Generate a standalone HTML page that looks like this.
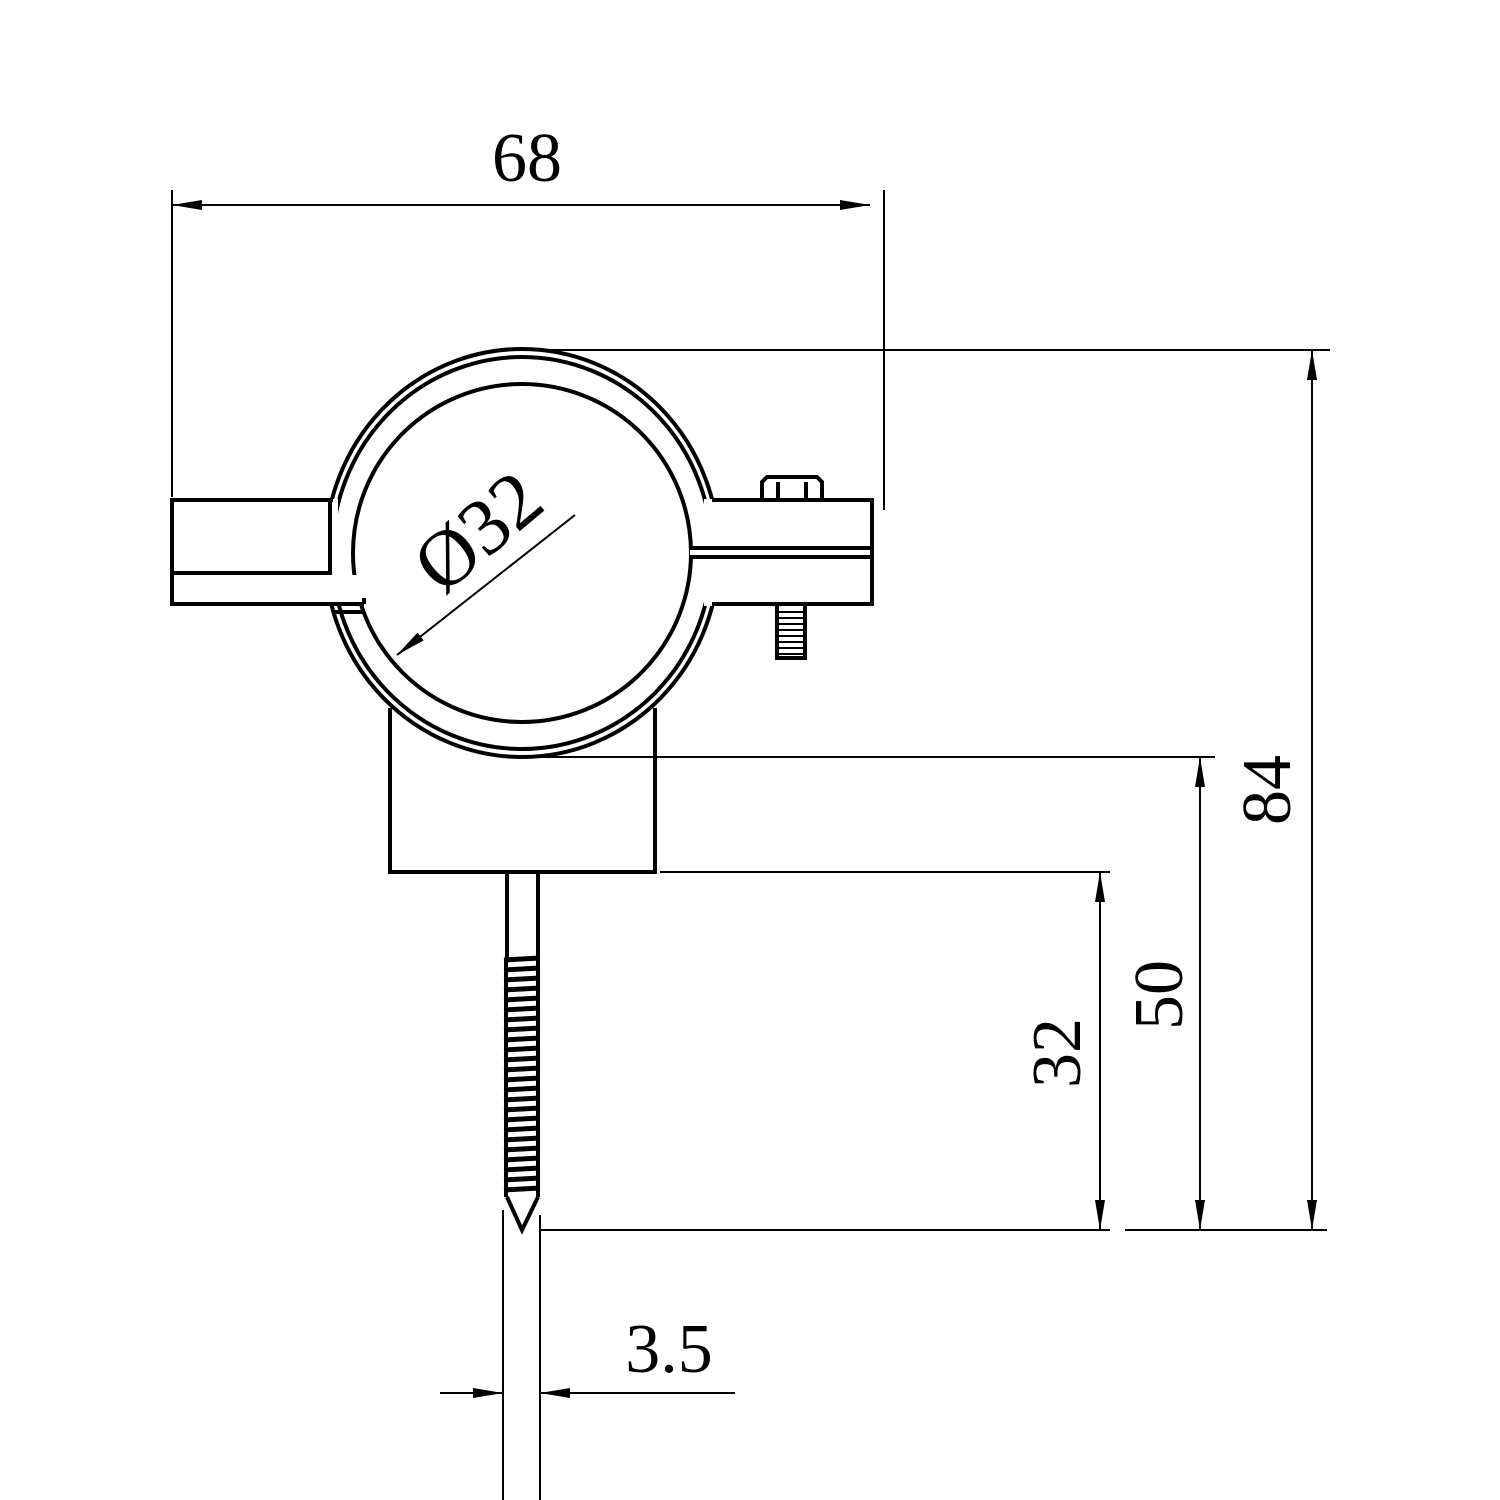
<!DOCTYPE html>
<html><head><style>body{margin:0;background:#fff}svg{display:block}</style></head>
<body>
<svg width="1500" height="1500" viewBox="0 0 1500 1500" xmlns="http://www.w3.org/2000/svg">
<defs>
<marker id="a" viewBox="0 0 30 10" refX="30" refY="5" markerWidth="30" markerHeight="10" markerUnits="userSpaceOnUse" orient="auto"><path d="M0,0 L30,5 L0,10 Z" fill="#000"/></marker>
</defs>
<g stroke="#000" fill="none">
<g stroke-width="2">
<line x1="172" y1="190" x2="172" y2="497"/>
<line x1="884" y1="190" x2="884" y2="510"/>
<line x1="530" y1="350" x2="1330" y2="350"/>
<line x1="540" y1="757" x2="1215" y2="757"/>
<line x1="660" y1="872" x2="1110" y2="872"/>
<line x1="540" y1="1230" x2="1110" y2="1230"/>
<line x1="1125" y1="1230" x2="1327" y2="1230"/>
<line x1="503" y1="1210" x2="503" y2="1505"/>
<line x1="540" y1="1215" x2="540" y2="1505"/>
<line x1="202" y1="205" x2="172" y2="205" marker-end="url(#a)"/>
<line x1="200" y1="205" x2="870" y2="205" marker-end="url(#a)"/>
<line x1="1312" y1="400" x2="1312" y2="350" marker-end="url(#a)"/>
<line x1="1312" y1="380" x2="1312" y2="1230" marker-end="url(#a)"/>
<line x1="1200" y1="800" x2="1200" y2="757" marker-end="url(#a)"/>
<line x1="1200" y1="787" x2="1200" y2="1230" marker-end="url(#a)"/>
<line x1="1100" y1="910" x2="1100" y2="872" marker-end="url(#a)"/>
<line x1="1100" y1="902" x2="1100" y2="1230" marker-end="url(#a)"/>
<line x1="440" y1="1393" x2="503" y2="1393" marker-end="url(#a)"/>
<line x1="735" y1="1393" x2="540" y2="1393" marker-end="url(#a)"/>
<line x1="575" y1="515" x2="397" y2="655" marker-end="url(#a)"/>
</g>
<g stroke-width="4">
<line x1="390" y1="708" x2="390" y2="872"/>
<line x1="655" y1="708" x2="655" y2="872"/>
<line x1="388" y1="872" x2="657" y2="872"/>
</g>
<g stroke-width="4">
<ellipse cx="522" cy="553" rx="197" ry="204"/>
<ellipse cx="522" cy="553" rx="190" ry="196"/>
<ellipse cx="522" cy="553" rx="169" ry="169"/>
</g>
<rect x="170" y="499" width="168" height="107" fill="#fff" stroke="none"/>
<rect x="704" y="499" width="172" height="107" fill="#fff" stroke="none"/>
<rect x="336" y="575" width="30" height="30" fill="#fff" stroke="none"/>
<rect x="690" y="549" width="20" height="8" fill="#fff" stroke="none"/>
<g stroke-width="4">
<path d="M333,500 L172,500 L172,604 L364,604"/>
<path d="M172,573 L330,573 L330,500"/>
<path d="M364,604 L364,598"/>
<path d="M335,612 L365,612"/>
<path d="M712,500 L872,500 L872,604 L712,604"/>
<path d="M690,548 L872,548 M690,557 L872,557"/>
<path d="M762,500 L762,482 L767,477 L817,477 L822,482 L822,500"/>
<path d="M778,482 L778,500 M806,482 L806,500"/>
<path d="M777,605 L777,658 L805,658 L805,605"/>
<path d="M507,872 L507,958 M538,872 L538,958"/>
<path d="M507,1197 L522,1230 L538,1197"/>
<path d="M506,958 L506,1197 M538,958 L538,1197"/>
</g>
<g stroke-width="2">
<path d="M779,612h24M779,618h24M779,624h24M779,630h24M779,636h24M779,642h24M779,648h24M779,654h24"/>
</g>
<g stroke-width="5">
<path d="M504,960l36,-2M504,970l36,-2M504,980l36,-2M504,990l36,-2M504,1000l36,-2M504,1010l36,-2M504,1020l36,-2M504,1030l36,-2M504,1040l36,-2M504,1050l36,-2M504,1060l36,-2M504,1070l36,-2M504,1080l36,-2M504,1090l36,-2M504,1100l36,-2M504,1110l36,-2M504,1120l36,-2M504,1130l36,-2M504,1140l36,-2M504,1150l36,-2M504,1160l36,-2M504,1170l36,-2M504,1180l36,-2M504,1190l36,-2"/>
</g>
</g>
<g font-family="'Liberation Serif', serif" font-size="70" fill="#000">
<text x="527" y="181" text-anchor="middle">68</text>
<text x="669" y="1372" text-anchor="middle">3.5</text>
<text transform="translate(1290,790) rotate(-90)" text-anchor="middle">84</text>
<text transform="translate(1182,995) rotate(-90)" text-anchor="middle">50</text>
<text transform="translate(1080,1053) rotate(-90)" text-anchor="middle">32</text>
<text transform="translate(495,552) rotate(-40)" text-anchor="middle" font-size="80">Ø32</text>
</g>
</svg>
</body></html>
